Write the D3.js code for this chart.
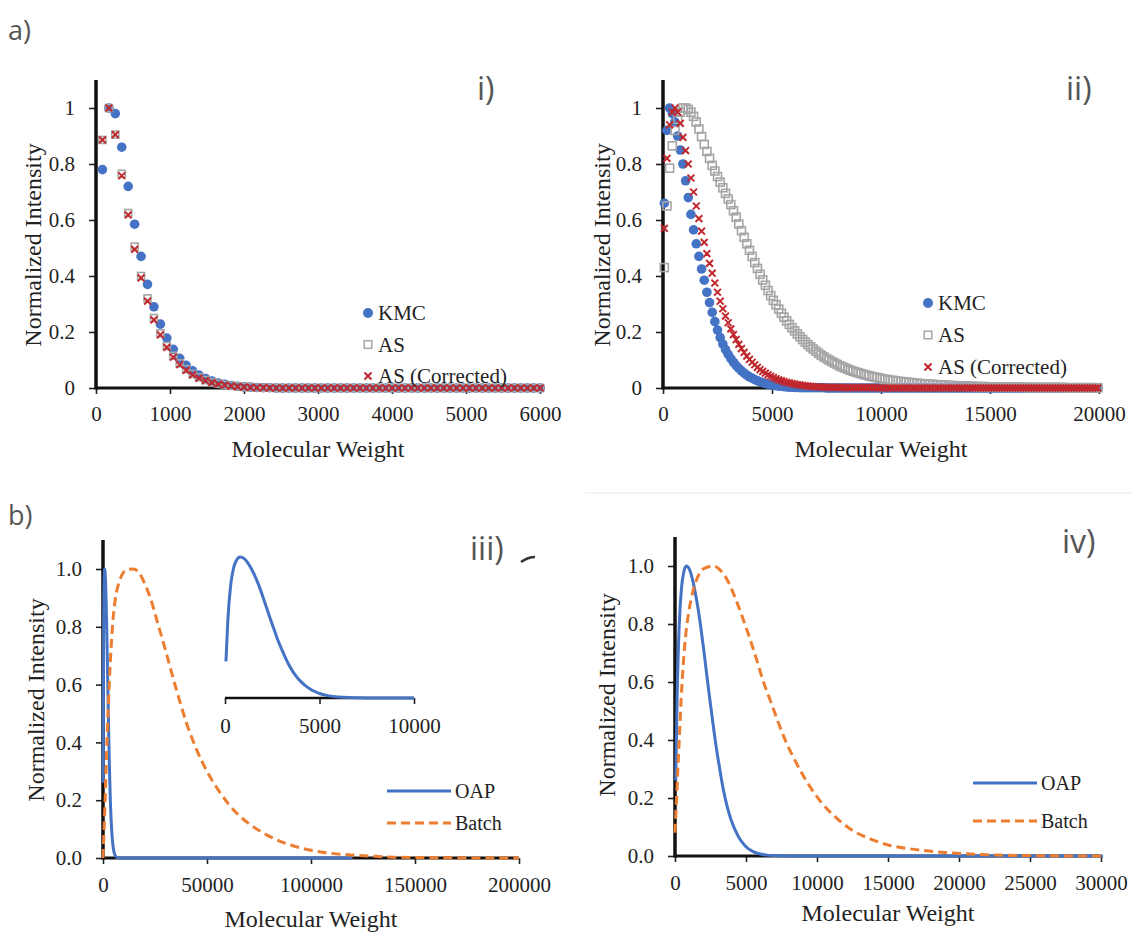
<!DOCTYPE html>
<html>
<head>
<meta charset="utf-8">
<script src="https://cdn.jsdelivr.net/npm/d3@7"></script>
<style>
  body { margin: 0; background: #fff; }
  text { font-family: "Liberation Serif", "Times New Roman", serif; fill: #222; }
  .tag { font-family: "Open Sans", "Liberation Sans", sans-serif; fill: #555; }
</style>
</head>
<body>
<svg id="fig" width="1131" height="934"></svg>
<script>
// ---- data ----
// panel i: points every 87 Da starting at 87
var mwStep1 = 87;
var kmc1 = [0.78,1.0,0.98,0.86,0.72,0.585,0.47,0.37,0.29,0.228,
  0.178,0.138,0.106,0.081,0.061,0.046,0.034,0.025,0.018,0.013,
  0.009,0.006,0.004,0.003,0.002,0.001,0.001,0,0,0,
  0,0,0,0,0,0,0,0,0,0, 0,0,0,0,0,0,0,0,0,0, 0,0,0,0,0,0,0,0,0,0, 0,0,0,0,0,0,0,0,0];
var as1 = [0.886,1.0,0.905,0.765,0.625,0.505,0.40,0.32,0.25,0.195,
  0.15,0.115,0.088,0.067,0.05,0.038,0.028,0.02,0.015,0.011,
  0.008,0.006,0.004,0.003,0.002,0.001,0.001,0,0,0,
  0,0,0,0,0,0,0,0,0,0, 0,0,0,0,0,0,0,0,0,0, 0,0,0,0,0,0,0,0,0,0, 0,0,0,0,0,0,0,0,0];
var asc1 = [0.886,1.0,0.905,0.758,0.618,0.495,0.393,0.31,0.243,0.19,
  0.145,0.11,0.083,0.063,0.047,0.035,0.026,0.019,0.014,0.01,
  0.007,0.005,0.003,0.002,0.001,0.001,0,0,0,0,
  0,0,0,0,0,0,0,0,0,0, 0,0,0,0,0,0,0,0,0,0, 0,0,0,0,0,0,0,0,0,0, 0,0,0,0,0,0,0,0,0];

// panel ii: points every 122 Da starting at 61
var mwStart2 = 61, mwStep2 = 122;
var kmc2 = [0.66,0.92,1.0,0.98,0.95,0.90,0.85,0.80,0.74,0.68,
  0.62,0.565,0.515,0.47,0.425,0.385,0.342,0.305,0.27,0.237,
  0.207,0.18,0.157,0.137,0.12,0.105,0.092,0.08,0.07,0.061,
  0.053,0.046,0.04,0.035,0.03,0.026,0.022,0.019,0.016,0.014,
  0.012,0.01,0.008,0.007,0.006,0.005,0.004,0.003,0.003,0.002,
  0.002,0.001,0.001,0.001,0.001,0.001,0.001,0.001,0.001,0.001,
  0.001,0,0,0,0,0,0,0,0,0,
  0,0,0,0,0,0,0,0,0,0, 0,0,0,0,0,0,0,0,0,0, 0,0,0,0,0,0,0,0,0,0,
  0,0,0,0,0,0,0,0,0,0, 0,0,0,0,0,0,0,0,0,0, 0,0,0,0,0,0,0,0,0,0,
  0,0,0,0,0,0,0,0,0,0, 0,0,0,0,0,0,0,0,0,0, 0,0,0,0,0,0,0,0,0,0,
  0,0,0,0];
var as2 = [0.43,0.65,0.785,0.865,0.92,0.96,0.985,1.0,1.0,0.995,
  0.985,0.97,0.95,0.925,0.898,0.87,0.845,0.82,0.795,0.775,
  0.755,0.735,0.715,0.695,0.675,0.655,0.633,0.61,0.586,0.562,
  0.538,0.515,0.492,0.47,0.448,0.427,0.406,0.386,0.367,0.348,
  0.33,0.313,0.297,0.282,0.267,0.253,0.24,0.227,0.215,0.204,
  0.193,0.183,0.173,0.164,0.155,0.147,0.139,0.131,0.124,0.117,
  0.111,0.105,0.099,0.094,0.089,0.084,0.079,0.075,0.071,0.067,
  0.063,0.06,0.057,0.054,0.051,0.048,0.046,0.043,0.041,0.039,
  0.037,0.035,0.033,0.031,0.03,0.028,0.027,0.025,0.024,0.023,
  0.022,0.021,0.02,0.019,0.018,0.017,0.016,0.015,0.015,0.014,
  0.013,0.013,0.012,0.011,0.011,0.01,0.01,0.009,0.009,0.008,
  0.008,0.008,0.007,0.007,0.006,0.006,0.006,0.005,0.005,0.005,
  0.005,0.004,0.004,0.004,0.004,0.003,0.003,0.003,0.003,0.003,
  0.003,0.003,0.003,0.003,0.003,0.003,0.002,0.002,0.002,0.002,
  0.002,0.002,0.002,0.002,0.002,0.002,0.002,0.002,0.002,0.002,
  0.002,0.001,0.001,0.001,0.001,0.001,0.001,0.001,0.001,0.001,
  0.001,0.001,0.001,0.001];
var asc2 = [0.57,0.82,0.94,0.985,1.0,0.985,0.945,0.895,0.848,0.80,
  0.75,0.70,0.65,0.605,0.56,0.52,0.48,0.445,0.41,0.375,
  0.342,0.31,0.283,0.257,0.233,0.211,0.191,0.173,0.156,0.141,
  0.127,0.114,0.102,0.092,0.083,0.074,0.066,0.059,0.053,0.047,
  0.042,0.037,0.033,0.029,0.026,0.023,0.02,0.018,0.016,0.014,
  0.012,0.011,0.0095,0.008,0.007,0.006,0.005,0.0045,0.004,0.0035,
  0.003,0.0025,0.002,0.002,0.002,0.002,0.002,0.001,0.001,0.001,
  0.001,0.001,0.001,0.001,0.001,0.001,0.001,0.001,0.001,0.001,
  0.001,0,0,0,0,0,0,0,0,0,
  0,0,0,0,0,0,0,0,0,0, 0,0,0,0,0,0,0,0,0,0, 0,0,0,0,0,0,0,0,0,0,
  0,0,0,0,0,0,0,0,0,0, 0,0,0,0,0,0,0,0,0,0, 0,0,0,0,0,0,0,0,0,0,
  0,0,0,0,0,0,0,0,0,0,
  0,0,0,0];

// panels iii / iv: OAP (also in the inset) and batch curves
var oapMW  = [50,150,300,450,600,800,1000,1200,1400,1600,1800,2000,2200,2400,2600,2800,3000,3200,3400,3600,
  3800,4000,4250,4500,4750,5000,5500,6000,6500,7000,8000,10000,15000,20000,25000,30000,40000,80000,120000];
var oapVal = [0.26,0.55,0.80,0.92,0.975,1.0,0.99,0.96,0.915,0.86,0.795,0.72,0.64,0.56,0.485,0.41,0.345,0.285,0.23,0.185,
  0.148,0.118,0.088,0.064,0.046,0.032,0.015,0.007,0.003,0.0015,0,0,0,0,0,0,0,0,0];
var batch3MW  = [0,1000,2000,3000,4000,5000,6000,8000,10000,12000,14500,17000,20000,23000,26000,30000,35000,
  40000,45000,50000,55000,60000,65000,70000,80000,90000,100000,110000,120000,130000,140000,160000,180000,200000];
var batch3Val = [0,0.2,0.42,0.6,0.74,0.84,0.9,0.96,0.99,0.998,1.0,0.99,0.95,0.895,0.82,0.72,0.59,
  0.47,0.375,0.30,0.24,0.19,0.15,0.12,0.075,0.045,0.027,0.016,0.01,0.006,0.003,0.001,0,0];
var batch4MW  = [0,250,500,750,1000,1250,1500,2000,2700,3200,3700,4200,4700,5200,5700,6200,6800,7300,7800,8500,
  9300,10300,11400,12500,13700,15000,16500,17500,19000,20000,22000,24000,26000,28000,30000];
var batch4Val = [0.08,0.35,0.6,0.76,0.85,0.91,0.95,0.99,1.0,0.985,0.95,0.895,0.83,0.76,0.685,0.605,0.525,0.457,0.395,0.325,
  0.255,0.185,0.13,0.088,0.06,0.038,0.025,0.019,0.012,0.009,0.004,0.002,0.001,0,0];

var yTicks = [0, 0.2, 0.4, 0.6, 0.8, 1];
var xTicks1 = [0,1000,2000,3000,4000,5000,6000];
var xTicks2 = [0,5000,10000,15000,20000];
var xTicks3 = [0,50000,100000,150000,200000];
var xTicksInset = [0,5000,10000];
var xTicks4 = [0,5000,10000,15000,20000,25000,30000];

var BLUE = "#4472c4", GRAY = "#a5a5a5", RED = "#c0282d", ORANGE = "#ed7d31";
var SERIF = "Liberation Serif";

var svg = d3.select("#fig");

function zip(xs, ys) { return xs.map(function(x, i){ return {mw: x, v: ys[i]}; }); }
function grid(vals, start, step) { return vals.map(function(v, i){ return {mw: start + step*i, v: v}; }); }

function styleAxis(a) {
  a.attr("font-family", SERIF).attr("font-size", 21);
  a.select(".domain").remove();
  a.selectAll(".tick line").attr("stroke", "#222").attr("stroke-width", 1.6);
  a.selectAll("text").attr("font-family", SERIF).style("font-family", SERIF)
    .style("font-size", "21px").attr("fill", "#222");
}

// one panel: scales + Excel-like axes + titles
function panel(o) {
  var x = d3.scaleLinear().domain([0, o.xmax]).range([o.x0, o.x1]);
  var y = d3.scaleLinear().domain([0, 1]).range([o.y0, o.y1]);
  var g = svg.append("g");

  var ya = g.append("g").attr("transform", "translate(" + o.x0 + ",0)")
    .call(d3.axisLeft(y).tickValues(yTicks).tickSizeOuter(0).tickSize(7).tickPadding(14)
      .tickFormat(o.yfmt));
  styleAxis(ya);

  var xa = g.append("g").attr("transform", "translate(0," + o.y0 + ")")
    .call(d3.axisBottom(x).tickValues(o.xticks).tickSizeOuter(0).tickSize(6).tickPadding(o.xpad)
      .tickFormat(d3.format("d")));
  styleAxis(xa);

  // axis lines
  g.append("line").attr("x1", o.x0).attr("x2", o.x1).attr("y1", o.y0).attr("y2", o.y0)
    .attr("stroke", "#111").attr("stroke-width", 3);
  g.append("line").attr("x1", o.x0).attr("x2", o.x0).attr("y1", o.y0 + 1.5).attr("y2", y(1.1))
    .attr("stroke", "#111").attr("stroke-width", 3.5);

  g.append("text").attr("x", (o.x0 + o.x1) / 2).attr("y", o.xty)
    .attr("text-anchor", "middle").style("font-size", "24px").text("Molecular Weight");
  g.append("text").attr("transform", "translate(" + o.ytx + "," + o.yty + ") rotate(-90)")
    .attr("text-anchor", "middle").style("font-size", "24px").text("Normalized Intensity");
  return {x: x, y: y, g: g};
}

function crossPath(s) { return "M" + (-s) + "," + (-s) + "L" + s + "," + s + "M" + (-s) + "," + s + "L" + s + "," + (-s); }

function scatter(p, data, sq) {
  var g = p.g.append("g");
  g.selectAll("circle").data(data.kmc).enter().append("circle")
    .attr("cx", function(d){ return p.x(d.mw); }).attr("cy", function(d){ return p.y(d.v); })
    .attr("r", 4.8).attr("fill", BLUE);
  g.selectAll("rect").data(data.as).enter().append("rect")
    .attr("x", function(d){ return p.x(d.mw) - sq/2; }).attr("y", function(d){ return p.y(d.v) - sq/2; })
    .attr("width", sq).attr("height", sq).attr("fill", "none").attr("stroke", GRAY).attr("stroke-width", 1.6);
  g.selectAll("path.x").data(data.asc).enter().append("path").attr("class", "x")
    .attr("transform", function(d){ return "translate(" + p.x(d.mw) + "," + p.y(d.v) + ")"; })
    .attr("d", crossPath(3.4)).attr("stroke", RED).attr("stroke-width", 2).attr("fill", "none");
}

function scatterLegend(lx, ly, gap) {
  var g = svg.append("g");
  g.append("circle").attr("cx", lx).attr("cy", ly).attr("r", 5).attr("fill", BLUE);
  g.append("rect").attr("x", lx - 3.8).attr("y", ly + gap - 3.8).attr("width", 7.6).attr("height", 7.6)
    .attr("fill", "none").attr("stroke", GRAY).attr("stroke-width", 1.5);
  g.append("path").attr("transform", "translate(" + lx + "," + (ly + 2*gap) + ")")
    .attr("d", crossPath(3.5)).attr("stroke", RED).attr("stroke-width", 2);
  ["KMC", "AS", "AS (Corrected)"].forEach(function(t, i){
    g.append("text").attr("x", lx + 10).attr("y", ly + i*gap + 7).style("font-size", "21px").text(t);
  });
}

function lineLegend(lx, ly, gap) {
  var g = svg.append("g");
  g.append("line").attr("x1", lx).attr("x2", lx + 64).attr("y1", ly).attr("y2", ly)
    .attr("stroke", BLUE).attr("stroke-width", 3);
  g.append("line").attr("x1", lx).attr("x2", lx + 64).attr("y1", ly + gap).attr("y2", ly + gap)
    .attr("stroke", ORANGE).attr("stroke-width", 3).attr("stroke-dasharray", "9,5");
  g.append("text").attr("x", lx + 68).attr("y", ly + 7).style("font-size", "20px").text("OAP");
  g.append("text").attr("x", lx + 68).attr("y", ly + gap + 7).style("font-size", "20px").text("Batch");
}

var line = function(p) {
  return d3.line().x(function(d){ return p.x(d.mw); }).y(function(d){ return p.y(d.v); }).curve(d3.curveMonotoneX);
};

function clipFor(id, p, xmax) {
  svg.append("clipPath").attr("id", id).append("rect")
    .attr("x", p.x(0) - 2).attr("y", 0).attr("width", p.x(xmax) - p.x(0) + 4).attr("height", 934);
  return "url(#" + id + ")";
}

// ---- panel i ----
var p1 = panel({x0: 96, x1: 540, y0: 388, y1: 108, xmax: 6000, xticks: xTicks1, xpad: 12,
  yfmt: d3.format(""), xty: 457, ytx: 41, yty: 245});
scatter(p1, {kmc: grid(kmc1, mwStep1, mwStep1), as: grid(as1, mwStep1, mwStep1), asc: grid(asc1, mwStep1, mwStep1)}, 7);
scatterLegend(368, 313, 31.5);

// ---- panel ii ----
var p2 = panel({x0: 663, x1: 1099, y0: 388, y1: 108, xmax: 20000, xticks: xTicks2, xpad: 12,
  yfmt: d3.format(""), xty: 457, ytx: 610, yty: 245});
scatter(p2, {kmc: grid(kmc2, mwStart2, mwStep2), as: grid(as2, mwStart2, mwStep2), asc: grid(asc2, mwStart2, mwStep2)}, 8);
scatterLegend(928, 303, 32);

// ---- panel iii ----
var p3 = panel({x0: 103, x1: 519, y0: 858, y1: 569, xmax: 200000, xticks: xTicks3, xpad: 13,
  yfmt: d3.format(".1f"), xty: 927, ytx: 44, yty: 700});
var c3 = clipFor("c3", p3, 200000);
p3.g.append("path").datum(zip(oapMW, oapVal)).attr("clip-path", c3)
  .attr("d", line(p3)).attr("fill", "none").attr("stroke", BLUE).attr("stroke-width", 3);
p3.g.append("path").datum(zip(batch3MW, batch3Val)).attr("clip-path", c3)
  .attr("d", line(p3)).attr("fill", "none").attr("stroke", ORANGE).attr("stroke-width", 3)
  .attr("stroke-dasharray", "9,5");
lineLegend(387, 791, 32);

// inset of the OAP curve
var ix = d3.scaleLinear().domain([0, 10000]).range([225, 414]);
var iy = d3.scaleLinear().domain([0, 1]).range([698, 557]);
var ig = svg.append("g");
var ia = ig.append("g").attr("transform", "translate(0,698)")
  .call(d3.axisBottom(ix).tickValues(xTicksInset).tickSizeOuter(0).tickSize(6).tickPadding(14)
    .tickFormat(d3.format("d")));
styleAxis(ia);
ig.append("line").attr("x1", 225).attr("x2", 414).attr("y1", 698).attr("y2", 698)
  .attr("stroke", "#111").attr("stroke-width", 2.5);
var insetData = zip(oapMW, oapVal).filter(function(d){ return d.mw <= 10000; });
ig.append("path").datum(insetData)
  .attr("d", d3.line().x(function(d){ return ix(d.mw); }).y(function(d){ return iy(d.v); }).curve(d3.curveMonotoneX))
  .attr("fill", "none").attr("stroke", BLUE).attr("stroke-width", 3);

// small stray mark next to the iii) tag in the original
svg.append("path").attr("d", "M521,562 Q528,557 535,557").attr("fill", "none")
  .attr("stroke", "#333").attr("stroke-width", 2.5);

// ---- panel iv ----
var p4 = panel({x0: 675, x1: 1101, y0: 856, y1: 566, xmax: 30000, xticks: xTicks4, xpad: 13,
  yfmt: d3.format(".1f"), xty: 921, ytx: 615, yty: 695});
var c4 = clipFor("c4", p4, 30000);
p4.g.append("path").datum(zip(oapMW, oapVal)).attr("clip-path", c4)
  .attr("d", line(p4)).attr("fill", "none").attr("stroke", BLUE).attr("stroke-width", 3);
p4.g.append("path").datum(zip(batch4MW, batch4Val)).attr("clip-path", c4)
  .attr("d", line(p4)).attr("fill", "none").attr("stroke", ORANGE).attr("stroke-width", 3)
  .attr("stroke-dasharray", "9,5");
lineLegend(973, 783, 38);

// faint frame line above panel iv
svg.append("line").attr("x1", 585).attr("x2", 1131).attr("y1", 493).attr("y2", 493)
  .attr("stroke", "#f0f0f0").attr("stroke-width", 1.5);

// panel tags
[["a)", 8, 40, 27], ["b)", 8, 525, 27], ["i)", 477, 100, 32], ["ii)", 1066, 100, 32],
 ["iii)", 470, 560, 32], ["iv)", 1062, 553, 32]].forEach(function(t){
  svg.append("text").attr("class", "tag").attr("x", t[1]).attr("y", t[2])
    .style("font-size", t[3] + "px").text(t[0]);
});
</script>
</body>
</html>
